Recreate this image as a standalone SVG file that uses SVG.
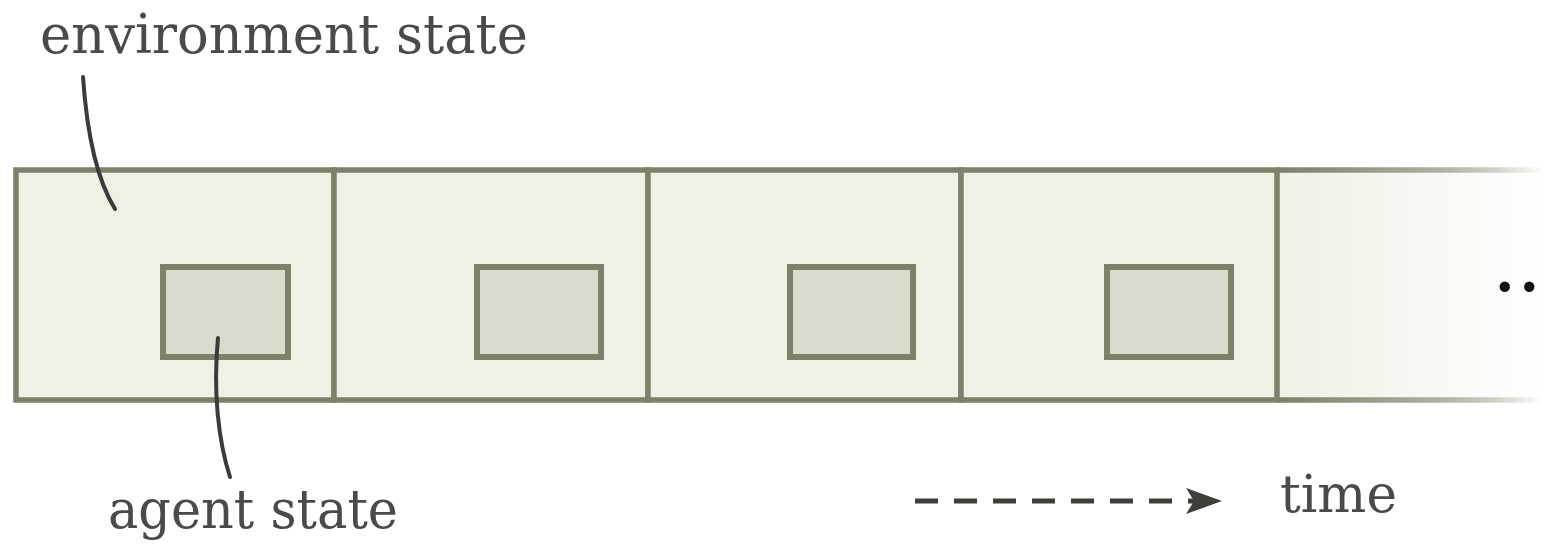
<svg xmlns="http://www.w3.org/2000/svg" width="1543" height="545" viewBox="0 0 1543 545">
<defs>
<linearGradient id="fadeFill" gradientUnits="userSpaceOnUse" x1="1280" y1="0" x2="1543" y2="0">
<stop offset="0" stop-color="#eef1e4"/>
<stop offset="1" stop-color="#ffffff"/>
</linearGradient>
<linearGradient id="fadeLine" gradientUnits="userSpaceOnUse" x1="1280" y1="0" x2="1543" y2="0">
<stop offset="0" stop-color="#7c8169"/>
<stop offset="0.55" stop-color="#a9ac9c"/>
<stop offset="1" stop-color="#7c8169" stop-opacity="0"/>
</linearGradient>
<marker id="arrow" viewBox="0 0 36 26" refX="34" refY="13" markerWidth="36" markerHeight="26" markerUnits="userSpaceOnUse" orient="auto">
<path d="M0,0 L36,13 L0,26 L8,13 Z" fill="#3d3f3b"/>
</marker>
<style>
.cell{fill:#eef1e4;stroke:#7c8169;stroke-width:5.5}
.agent{fill:#d8dccd;stroke:#7c8169;stroke-width:6}
.lbl{font-family:"DejaVu Serif","Liberation Serif",serif;fill:#4a4a48}
.lead{fill:none;stroke:#3a3c39;stroke-width:4;stroke-linecap:round}
</style>
</defs>
<g id="fade-cell">
<rect x="1277" y="170" width="266" height="230" fill="url(#fadeFill)"/>
<line x1="1277" y1="170" x2="1543" y2="170" stroke="url(#fadeLine)" stroke-width="5.5"/>
<line x1="1277" y1="400" x2="1543" y2="400" stroke="url(#fadeLine)" stroke-width="5.5"/>
<text x="1495" y="291" font-family="DejaVu Serif, serif" font-size="56" font-weight="bold" letter-spacing="5" fill="#111">...</text>
</g>
<g id="env1"><rect class="cell" x="16" y="170" width="318" height="230"/></g>
<g id="env2"><rect class="cell" x="334" y="170" width="314" height="230"/></g>
<g id="env3"><rect class="cell" x="648" y="170" width="313" height="230"/></g>
<g id="env4"><rect class="cell" x="961" y="170" width="316" height="230"/></g>
<g id="agent1"><rect class="agent" x="163" y="267" width="125" height="90"/></g>
<g id="agent2"><rect class="agent" x="477" y="267" width="124" height="90"/></g>
<g id="agent3"><rect class="agent" x="790" y="267" width="123" height="90"/></g>
<g id="agent4"><rect class="agent" x="1107" y="267" width="124" height="90"/></g>
<g id="labels">
<text class="lbl" x="40" y="53" font-size="54" textLength="488" lengthAdjust="spacingAndGlyphs">environment state</text>
<text class="lbl" x="108" y="528" font-size="54" textLength="290" lengthAdjust="spacingAndGlyphs">agent state</text>
<text class="lbl" x="1280" y="512" font-size="53" textLength="117" lengthAdjust="spacingAndGlyphs">time</text>
</g>
<g id="connectors">
<path class="lead" d="M83,77 C87,135 97,180 115,209"/>
<path class="lead" d="M218,338 C213,390 218,440 230,477"/>
<line x1="915" y1="501" x2="1220" y2="501" stroke="#3d3f3b" stroke-width="5" stroke-dasharray="23 16" marker-end="url(#arrow)"/>
</g>
</svg>
